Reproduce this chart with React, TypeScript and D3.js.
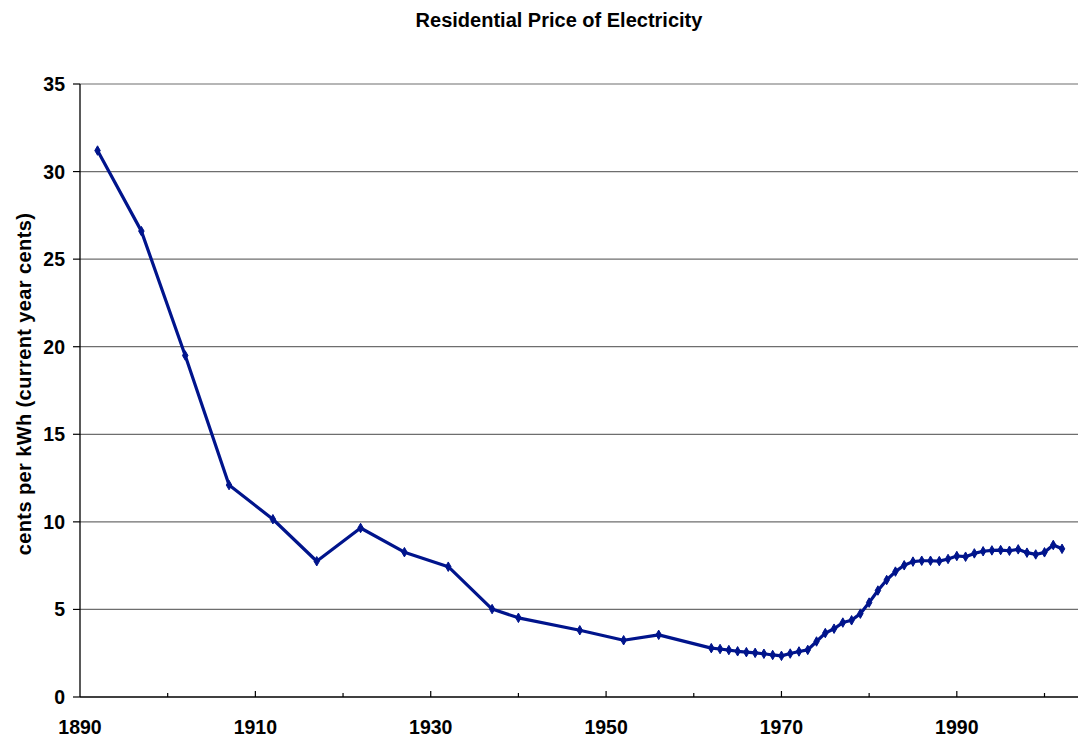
import { useEffect, useRef } from 'react';
import * as d3 from 'd3';

// Residential electricity price, cents per kWh (current year cents)
const years = [
    1892, 1897, 1902, 1907, 1912, 1917, 1922, 1927, 1932, 1937, 1940, 1947, 1952, 1956,
    1962, 1963, 1964, 1965, 1966, 1967, 1968, 1969, 1970, 1971, 1972, 1973, 1974, 1975,
    1976, 1977, 1978, 1979, 1980, 1981, 1982, 1983, 1984, 1985, 1986, 1987, 1988, 1989,
    1990, 1991, 1992, 1993, 1994, 1995, 1996, 1997, 1998, 1999, 2000, 2001, 2002
];
const prices = [
    31.2, 26.6, 19.5, 12.1, 10.15, 7.75, 9.65, 8.27, 7.44, 5.02, 4.52, 3.81, 3.24, 3.55,
    2.79, 2.74, 2.68, 2.61, 2.56, 2.52, 2.47, 2.4, 2.35, 2.48, 2.6, 2.69, 3.17, 3.65,
    3.9, 4.25, 4.38, 4.76, 5.39, 6.08, 6.68, 7.16, 7.52, 7.73, 7.78, 7.78, 7.76, 7.88,
    8.05, 8.01, 8.2, 8.32, 8.37, 8.39, 8.35, 8.43, 8.24, 8.14, 8.26, 8.68, 8.46
];
const yTicks = [0, 5, 10, 15, 20, 25, 30, 35];
const xLabelTicks = [1890, 1910, 1930, 1950, 1970, 1990];
const xMinorTicks = [1900, 1920, 1940, 1960, 1980, 2000];

const WIDTH = 1078;
const HEIGHT = 738;
const FONT = '"Liberation Sans", Arial, Helvetica, sans-serif';
const LINE = '#00148C';

export default function App() {
    const svgRef = useRef<SVGSVGElement>(null);

    useEffect(() => {
        if (!svgRef.current) return;
        const svg = d3.select(svgRef.current);
        svg.selectAll('*').remove();

        const left = 80;
        const top = 84;
        const bottom = 697;

        const x = d3.scaleLinear().domain([1890, 2000]).range([left, 1044.5]);
        const y = d3.scaleLinear().domain([0, 35]).range([bottom, top]);

        // Horizontal gridlines
        svg.append('g')
            .selectAll('line')
            .data(yTicks.filter(d => d > 0))
            .enter()
            .append('line')
            .attr('x1', left)
            .attr('x2', WIDTH)
            .attr('y1', d => y(d))
            .attr('y2', d => y(d))
            .attr('stroke', '#6e6e6e')
            .attr('stroke-width', 1.2);

        // Y axis line and ticks
        svg.append('line')
            .attr('x1', left).attr('x2', left)
            .attr('y1', top).attr('y2', bottom)
            .attr('stroke', '#000').attr('stroke-width', 1.3);

        svg.append('g')
            .selectAll('line')
            .data(yTicks)
            .enter()
            .append('line')
            .attr('x1', left - 7)
            .attr('x2', left)
            .attr('y1', d => y(d))
            .attr('y2', d => y(d))
            .attr('stroke', '#000')
            .attr('stroke-width', 1.2);

        svg.append('g')
            .selectAll('text')
            .data(yTicks)
            .enter()
            .append('text')
            .attr('x', 65)
            .attr('y', d => y(d))
            .attr('dy', '0.36em')
            .attr('text-anchor', 'end')
            .style('font-family', FONT)
            .style('font-size', '19.5px')
            .style('font-weight', 'bold')
            .text(d => d);

        // X axis line and ticks (pointing into the plot)
        svg.append('line')
            .attr('x1', left).attr('x2', WIDTH)
            .attr('y1', bottom).attr('y2', bottom)
            .attr('stroke', '#000').attr('stroke-width', 1.3);

        svg.append('g')
            .selectAll('line')
            .data(xLabelTicks.filter(d => d > 1890))
            .enter()
            .append('line')
            .attr('x1', d => x(d))
            .attr('x2', d => x(d))
            .attr('y1', bottom - 6)
            .attr('y2', bottom)
            .attr('stroke', '#000')
            .attr('stroke-width', 1.2);

        svg.append('g')
            .selectAll('line')
            .data(xMinorTicks)
            .enter()
            .append('line')
            .attr('x1', d => x(d))
            .attr('x2', d => x(d))
            .attr('y1', bottom - 4)
            .attr('y2', bottom)
            .attr('stroke', '#000')
            .attr('stroke-width', 1.2);

        svg.append('g')
            .selectAll('text')
            .data(xLabelTicks)
            .enter()
            .append('text')
            .attr('x', d => x(d))
            .attr('y', 734)
            .attr('text-anchor', 'middle')
            .style('font-family', FONT)
            .style('font-size', '19.5px')
            .style('font-weight', 'bold')
            .text(d => d);

        // Data line
        const points = years.map((yr, i) => ({ year: yr, value: prices[i] }));
        const line = d3.line<typeof points[0]>()
            .x(d => x(d.year))
            .y(d => y(d.value));

        svg.append('path')
            .datum(points)
            .attr('d', line)
            .attr('fill', 'none')
            .attr('stroke', LINE)
            .attr('stroke-width', 3.2)
            .attr('stroke-linejoin', 'round');

        const diamond = d3.symbol().type(d3.symbolDiamond).size(26);
        svg.append('g')
            .selectAll('path')
            .data(points)
            .enter()
            .append('path')
            .attr('d', diamond)
            .attr('transform', d => `translate(${x(d.year)}, ${y(d.value)})`)
            .attr('fill', LINE)
            .attr('stroke', LINE)
            .attr('stroke-width', 1);

        // Title
        svg.append('text')
            .attr('x', 559)
            .attr('y', 27)
            .attr('text-anchor', 'middle')
            .style('font-family', FONT)
            .style('font-size', '20px')
            .style('font-weight', 'bold')
            .text('Residential Price of Electricity');

        // Y axis title
        svg.append('text')
            .attr('transform', 'translate(31, 384) rotate(-90)')
            .attr('text-anchor', 'middle')
            .style('font-family', FONT)
            .style('font-size', '20px')
            .style('font-weight', 'bold')
            .style('letter-spacing', '0.4px')
            .text('cents per kWh (current year cents)');
    }, []);

    return (
        <svg
            ref={svgRef}
            width={WIDTH}
            height={HEIGHT}
            style={{ position: 'absolute', left: 0, top: 0, background: '#fff' }}
        />
    );
}
